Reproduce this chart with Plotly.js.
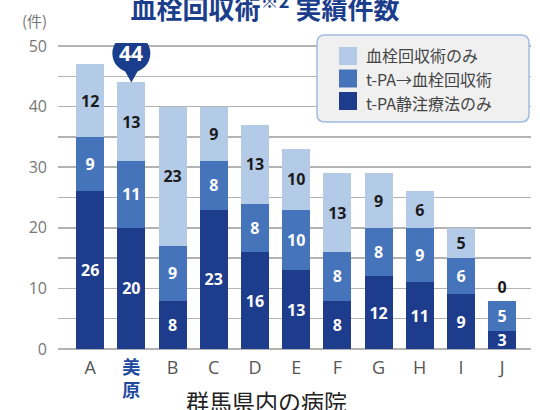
<!DOCTYPE html>
<html>
<head>
<meta charset="utf-8">
<script src="https://cdn.plot.ly/plotly-3.0.1.min.js"></script>
<style>html,body{margin:0;padding:0;background:#fff;}#chart{width:540px;height:410px;}</style>
</head>
<body>
<div id="chart"></div>
<script>
const categories = ['A','美原','B','C','D','E','F','G','H','I','J'];
const tpaOnly = [26,20,8,23,16,13,8,12,11,9,3];
const tpaThenThrombectomy = [9,11,9,8,8,10,8,8,9,6,5];
const thrombectomyOnly = [12,13,23,9,13,10,13,9,6,5,0];
const seriesNames = ['t-PA静注療法のみ','t-PA→血栓回収術','血栓回収術のみ'];
const highlightCategory = '美原';
const highlightTotal = 44;
const yTickVals = [0,5,10,15,20,25,30,35,40,45,50];
const yTickText = ['0','','10','','20','','30','','40','','50'];

const cDark = '#1e3c8c', cMid = '#4674ba', cLight = '#b4cbe8', navy = '#1b3e8c';
const numFont = 'Open Sans, Noto Sans, Noto Sans CJK JP, sans-serif';
const cjkFont = 'Noto Sans CJK JP, sans-serif';

function barTrace(vals, name, color, txtColor, positions) {
  return {
    type: 'bar', x: categories, y: vals, name: name,
    marker: {color: color, line: {width: 0}},
    text: vals.map(String),
    textposition: positions || 'inside',
    insidetextanchor: 'middle',
    textangle: 0,
    constraintext: 'none',
    cliponaxis: false,
    textfont: {family: numFont, size: 16, color: txtColor, weight: 'bold'},
    insidetextfont: {family: numFont, size: 16, color: txtColor, weight: 'bold'},
    outsidetextfont: {family: numFont, size: 16, color: '#1a1a1a', weight: 'bold'},
    hoverinfo: 'skip'
  };
}

const traces = [
  barTrace(tpaOnly, seriesNames[0], cDark, '#ffffff'),
  barTrace(tpaThenThrombectomy, seriesNames[1], cMid, '#ffffff'),
  barTrace(thrombectomyOnly, seriesNames[2], cLight, '#1a1a1a',
    thrombectomyOnly.map(v => v === 0 ? 'outside' : 'inside'))
];

const tickText = categories.map(c => c === highlightCategory
  ? c.split('').map(ch => '<span style="color:#1f4a9e"><b>' + ch + '</b></span>').join('<br>')
  : c);

const hlIndex = categories.indexOf(highlightCategory);
const boxX = (317 - 58) / 473, boxY = (349 - 35) / 306;
const swatchColors = [cLight, cMid, cDark];
const swatchRows = [-21, -43.5, -66];
const swatchShapes = swatchColors.map((col, i) => ({
  type: 'rect', layer: 'above',
  xref: 'paper', yref: 'paper', xsizemode: 'pixel', ysizemode: 'pixel',
  xanchor: boxX, yanchor: boxY,
  x0: 22, x1: 40, y0: swatchRows[i] - 9, y1: swatchRows[i] + 9,
  fillcolor: col, line: {width: 0}
}));

const layout = {
  width: 540, height: 410,
  margin: {l: 58, r: 9, t: 43, b: 61},
  paper_bgcolor: '#fff', plot_bgcolor: '#fff',
  barmode: 'stack', bargap: 0.32,
  showlegend: true,
  title: {
    text: '<b>血栓回収術<sup>※2</sup> 実績件数</b>',
    font: {family: cjkFont, size: 26, color: navy},
    x: 265 / 540, xanchor: 'center', xref: 'container',
    y: 1 - 10/410, yanchor: 'middle', yref: 'container'
  },
  xaxis: {
    type: 'category', range: [-0.78, 10.7],
    tickvals: categories, ticktext: tickText,
    tickfont: {family: numFont, size: 18, color: '#555'},
    ticks: '', ticklabelstandoff: 6,
    showgrid: false, zeroline: false, showline: false, fixedrange: true
  },
  yaxis: {
    range: [0, 50.5], tickvals: yTickVals, ticktext: yTickText,
    tickfont: {family: numFont, size: 16, color: '#777'},
    showgrid: true, gridcolor: '#b3b3b3', gridwidth: 1.5,
    zeroline: true, zerolinecolor: '#b3b3b3', zerolinewidth: 1.5,
    ticks: '', ticklabelstandoff: 10, showline: false, fixedrange: true
  },
  legend: {
    x: (326 - 58) / 473, xanchor: 'left',
    y: (349 - 39) / 306, yanchor: 'top',
    traceorder: 'reversed',
    bgcolor: 'rgba(0,0,0,0)', borderwidth: 0,
    font: {family: cjkFont, size: 16, color: '#444'},
    tracegroupgap: 0
  },
  shapes: [
    {
      type: 'path', layer: 'above',
      xref: 'paper', yref: 'paper', xsizemode: 'pixel', ysizemode: 'pixel',
      xanchor: boxX, yanchor: boxY,
      path: 'M8,0 H204 Q212,0 212,-8 V-79 Q212,-87 204,-87 H8 Q0,-87 0,-79 V-8 Q0,0 8,0 Z',
      fillcolor: '#f0f0f1', line: {color: '#a3bbe0', width: 1.5}
    }
  ].concat(swatchShapes).concat([
    {
      type: 'circle', layer: 'above',
      xref: 'x', yref: 'y', xsizemode: 'pixel', ysizemode: 'pixel',
      xanchor: hlIndex, yanchor: highlightTotal,
      x0: -19, x1: 19, y0: 10, y1: 48,
      fillcolor: navy, line: {width: 0}
    },
    {
      type: 'path', layer: 'above',
      xref: 'x', yref: 'y', xsizemode: 'pixel', ysizemode: 'pixel',
      xanchor: hlIndex, yanchor: highlightTotal,
      path: 'M0,0 L-9,16 L9,16 Z',
      fillcolor: navy, line: {width: 0}
    }
  ]),
  annotations: [
    {
      xref: 'x', yref: 'y', x: hlIndex, y: highlightTotal, yshift: 29,
      text: '<b>' + highlightTotal + '</b>', showarrow: false,
      font: {family: numFont, size: 21, color: '#fff'},
      xanchor: 'center', yanchor: 'middle'
    },
    {
      xref: 'paper', yref: 'paper', x: (34 - 58) / 473, y: (349 - 20) / 306,
      text: '(件)', showarrow: false,
      font: {family: cjkFont, size: 15, color: '#777'},
      xanchor: 'center', yanchor: 'middle'
    },
    {
      xref: 'paper', yref: 'paper', x: (266 - 58) / 473, y: (349 - 401) / 306,
      text: '群馬県内の病院', showarrow: false,
      font: {family: cjkFont, size: 23, color: '#222'},
      xanchor: 'center', yanchor: 'middle'
    }
  ]
};

Plotly.newPlot('chart', traces, layout, {staticPlot: true, displayModeBar: false});
</script>
</body>
</html>
